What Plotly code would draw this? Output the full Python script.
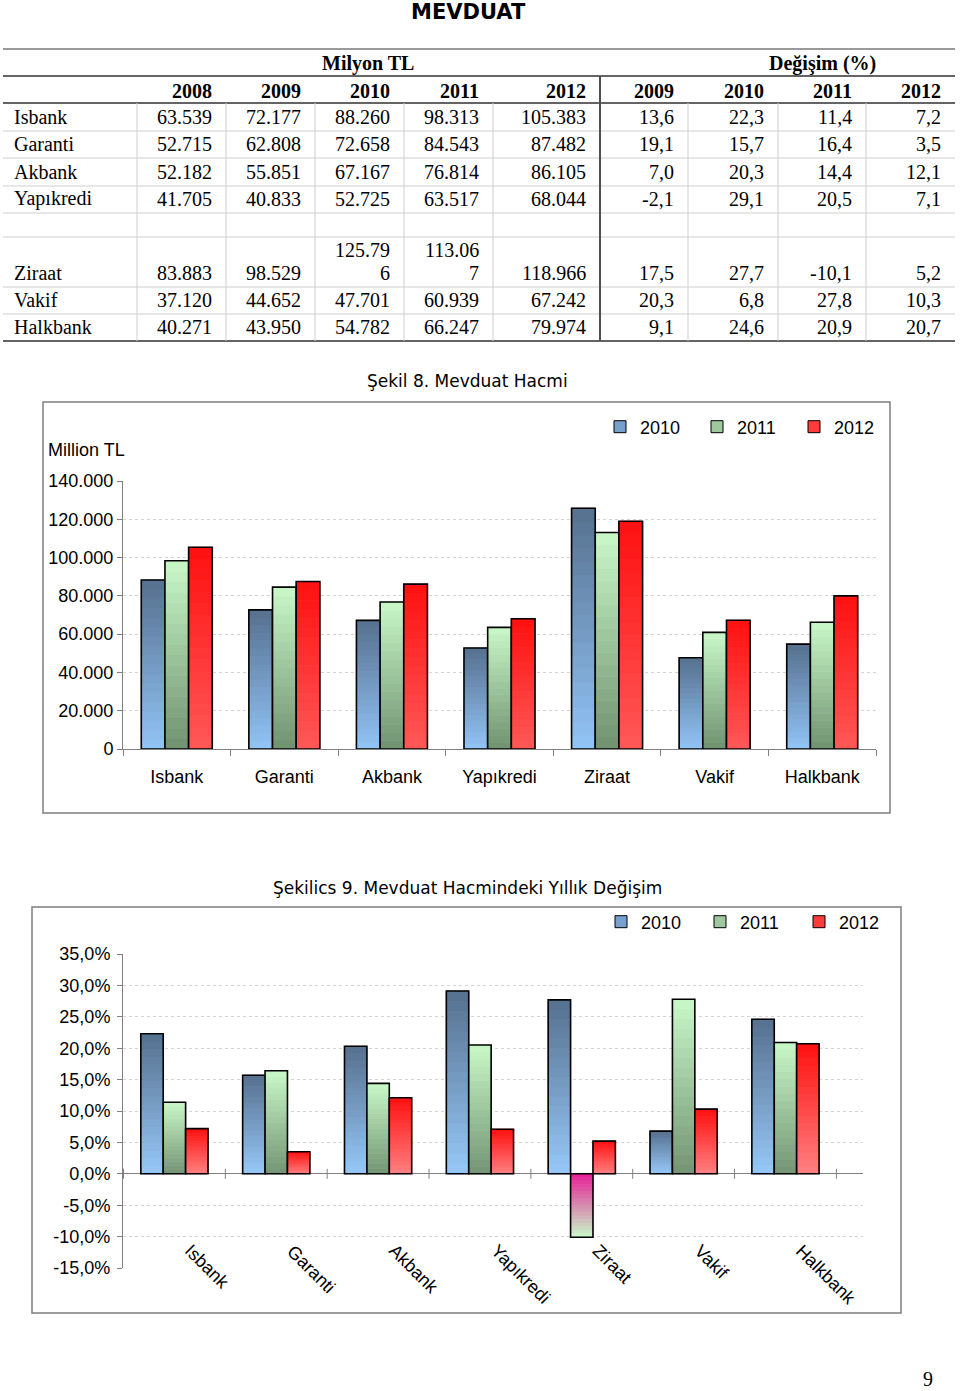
import plotly.graph_objects as go

W, H = 960, 1391

# ---------------- data ----------------
banks = ["Isbank", "Garanti", "Akbank", "Yapıkredi", "Ziraat", "Vakif", "Halkbank"]
years_tl = ["2008", "2009", "2010", "2011", "2012"]
years_pct = ["2009", "2010", "2011", "2012"]

tl_2008 = [63539, 52715, 52182, 41705, 83883, 37120, 40271]
tl_2009 = [72177, 62808, 55851, 40833, 98529, 44652, 43950]
tl_2010 = [88260, 72658, 67167, 52725, 125796, 47701, 54782]
tl_2011 = [98313, 84543, 76814, 63517, 113067, 60939, 66247]
tl_2012 = [105383, 87482, 86105, 68044, 118966, 67242, 79974]

pct_2009 = [13.6, 19.1, 7.0, -2.1, 17.5, 20.3, 9.1]
pct_2010 = [22.3, 15.7, 20.3, 29.1, 27.7, 6.8, 24.6]
pct_2011 = [11.4, 16.4, 14.4, 20.5, -10.1, 27.8, 20.9]
pct_2012 = [7.2, 3.5, 12.1, 7.1, 5.2, 10.3, 20.7]

chart_years = ["2010", "2011", "2012"]
tl_ticks = [0, 20000, 40000, 60000, 80000, 100000, 120000, 140000]
tl_ticktext = ["0", "20.000", "40.000", "60.000", "80.000", "100.000", "120.000", "140.000"]
pct_ticks = [-15, -10, -5, 0, 5, 10, 15, 20, 25, 30, 35]
pct_ticktext = ["-15,0%", "-10,0%", "-5,0%", "0,0%", "5,0%", "10,0%", "15,0%",
                "20,0%", "25,0%", "30,0%", "35,0%"]

title_main = "MEVDUAT"
title_c1 = "Şekil 8. Mevduat Hacmi"
title_c2 = "Şekilics 9. Mevduat Hacmindeki Yıllık Değişim"
page_no = "9"

# ---------------- helpers ----------------
def px(x):
    return x / W

def py(y):
    return 1 - y / H

def lerp(c0, c1, t):
    return "rgb(%d,%d,%d)" % tuple(round(a + (b - a) * t) for a, b in zip(c0, c1))

SERIF = "Liberation Serif"
SANS = "Liberation Sans"

fig = go.Figure()
shapes = []
annots = []

# ---------------- table ----------------
tl_cols = [tl_2008, tl_2009, tl_2010, tl_2011, tl_2012]
pct_cols = [pct_2009, pct_2010, pct_2011, pct_2012]
tl_right = [226, 315, 404, 493, 600]
pct_right = [688, 778, 866, 955]
row_bottoms = [131, 158, 186, 213, 287, 314, 341]
wrap_cells = {(4, 2), (4, 3)}


def hline(y, x0, x1, color, width):
    shapes.append(dict(type="line", xref="paper", yref="paper", x0=px(x0), x1=px(x1),
                       y0=py(y), y1=py(y), line=dict(color=color, width=width)))


def vline(x, y0, y1, color, width):
    shapes.append(dict(type="line", xref="paper", yref="paper", x0=px(x), x1=px(x),
                       y0=py(y0), y1=py(y1), line=dict(color=color, width=width)))


def text(x, y, s, size=20, family=SERIF, anchor="right", bold=False, color="#000"):
    if bold:
        s = "<b>%s</b>" % s
    annots.append(dict(x=px(x), y=py(y), xref="paper", yref="paper", text=s,
                       showarrow=False, xanchor=anchor, yanchor="middle",
                       font=dict(family=family, size=size, color=color)))


hline(49, 3, 955, "#9a9a9a", 2)
hline(76, 3, 955, "#303030", 1.5)
hline(103, 3, 955, "#303030", 1.5)
for yy in [131, 158, 186, 213, 237, 287, 314]:
    hline(yy, 3, 955, "#cfcfcf", 1)
hline(341, 3, 955, "#303030", 1.5)
for xx in [137, 226, 315, 404, 493, 688, 778, 866]:
    vline(xx, 103, 341, "#cfcfcf", 1)
vline(600, 76, 341, "#505050", 2)

text(368, 64, "Milyon TL", anchor="center", bold=True)
text(822, 64, "Değişim (%)", anchor="center", bold=True)
for yr, xr in zip(years_tl, tl_right):
    text(xr - 12, 91, yr, bold=True)
for yr, xr in zip(years_pct, pct_right):
    text(xr - 12, 91, yr, bold=True)

for i, b in enumerate(banks):
    yc = row_bottoms[i] - 14
    text(12, yc, b, anchor="left")
    for j, col in enumerate(tl_cols):
        s = "{:,}".format(col[i]).replace(",", ".")
        if (i, j) in wrap_cells:
            text(tl_right[j] - 12, yc - 23, s[:6])
            text(tl_right[j] - 12, yc, s[6:])
        else:
            text(tl_right[j] - 12, yc, s)
    for j, col in enumerate(pct_cols):
        s = "{:.1f}".format(col[i]).replace(".", ",")
        text(pct_right[j] - 12, yc, s)

# ---------------- titles ----------------
annots.append(dict(x=px(468), y=py(12), xref="paper", yref="paper", text="<b>%s</b>" % title_main,
                   showarrow=False, xanchor="center", yanchor="middle",
                   font=dict(family="DejaVu Sans", size=21, color="#000")))
annots.append(dict(x=px(467), y=py(381), xref="paper", yref="paper", text=title_c1,
                   showarrow=False, xanchor="center", yanchor="middle",
                   font=dict(family="DejaVu Sans", size=17, color="#000")))
annots.append(dict(x=px(467), y=py(888), xref="paper", yref="paper", text=title_c2,
                   showarrow=False, xanchor="center", yanchor="middle",
                   font=dict(family="DejaVu Sans", size=17, color="#000")))
annots.append(dict(x=px(928), y=py(1379), xref="paper", yref="paper", text=page_no,
                   showarrow=False, xanchor="center", yanchor="middle",
                   font=dict(family=SERIF, size=20, color="#000")))
annots.append(dict(x=px(46), y=py(450), xref="paper", yref="paper", text="Million TL",
                   showarrow=False, xanchor="left", yanchor="middle",
                   font=dict(family=SANS, size=18, color="#000")))

shapes.append(dict(type="rect", xref="paper", yref="paper", x0=px(43), x1=px(890),
                   y0=py(813), y1=py(402), line=dict(color="#7f7f7f", width=1.5)))
shapes.append(dict(type="rect", xref="paper", yref="paper", x0=px(32), x1=px(901),
                   y0=py(1313), y1=py(907), line=dict(color="#7f7f7f", width=1.5)))

# ---------------- bars ----------------
N = 18
grad1 = {
    "2010": ((146, 196, 246), (86, 112, 142)),
    "2011": ((112, 145, 112), (200, 248, 200)),
    "2012": ((255, 88, 88), (255, 16, 16)),
}
grad2 = {
    "2010": ((150, 200, 248), (86, 112, 142)),
    "2011": ((115, 148, 115), (200, 248, 200)),
    "2012": ((255, 128, 128), (255, 16, 16)),
}
neg_grad = ((230, 30, 150), (200, 248, 200))
mid_legend = {"2010": "rgb(120,160,205)", "2011": "rgb(160,200,160)", "2012": "rgb(255,60,60)"}


def add_series(vals, year, grad, xa, ya, grp, legend):
    bottom, top = grad
    for k in range(N):
        t = (k + 0.5) / N
        colors = [lerp(bottom, top, t) if v >= 0 else lerp(neg_grad[0], neg_grad[1], t)
                  for v in vals]
        fig.add_trace(go.Bar(
            x=banks, y=[v / N for v in vals], base=[v * k / N for v in vals],
            marker=dict(color=colors, line=dict(width=0.8, color=colors)),
            offsetgroup=grp + year, xaxis=xa, yaxis=ya, showlegend=False,
            hoverinfo="skip"))
    fig.add_trace(go.Bar(
        x=banks, y=vals, base=[0] * len(vals),
        marker=dict(color="rgba(0,0,0,0)", line=dict(color="#000", width=1.6)),
        offsetgroup=grp + year, xaxis=xa, yaxis=ya, showlegend=False))
    fig.add_trace(go.Bar(
        x=banks, y=[None] * len(vals), name=year,
        marker=dict(color=mid_legend[year], line=dict(color="#000", width=1)),
        offsetgroup=grp + year, xaxis=xa, yaxis=ya, showlegend=True, legend=legend))


for vals, yr in zip([tl_2010, tl_2011, tl_2012], chart_years):
    add_series(vals, yr, grad1[yr], "x", "y", "a", "legend")
for vals, yr in zip([pct_2010, pct_2011, pct_2012], chart_years):
    add_series(vals, yr, grad2[yr], "x2", "y2", "b", "legend2")

for b in banks:
    annots.append(dict(x=b, y=py(1238), xref="x2", yref="paper", text=b, showarrow=False,
                       xanchor="left", yanchor="top", textangle=45, xshift=4,
                       font=dict(family=SANS, size=18, color="#000")))

for i in range(len(banks) + 1):
    shapes.append(dict(type="line", xref="x2", yref="y2", x0=i - 0.5, x1=i - 0.5,
                       ysizemode="pixel", yanchor=0, y0=-5, y1=5,
                       line=dict(color="#808080", width=1)))

grid = dict(showgrid=True, gridcolor="#d4d4d4", griddash="3px,3px", gridwidth=1)
tickfont = dict(family=SANS, size=18, color="#000")

fig.update_layout(
    width=W, height=H, margin=dict(l=0, r=0, t=0, b=0, autoexpand=False),
    paper_bgcolor="white", plot_bgcolor="white",
    barmode="group", bargap=0.34, bargroupgap=0,
    showlegend=True,
    xaxis=dict(domain=[px(123), px(876)], anchor="y", type="category",
               categoryorder="array", categoryarray=banks,
               showline=True, linecolor="#808080", linewidth=1,
               ticks="outside", tickson="boundaries", ticklen=6, tickcolor="#808080",
               tickfont=tickfont, ticklabelstandoff=11, showgrid=False),
    yaxis=dict(domain=[py(749), py(481)], anchor="x", range=[0, 140000],
               tickvals=tl_ticks, ticktext=tl_ticktext, tickfont=tickfont,
               showline=True, linecolor="#808080", linewidth=1,
               ticks="outside", ticklen=5, tickcolor="#808080", zeroline=False, **grid),
    xaxis2=dict(domain=[px(123), px(863)], anchor="y2", type="category",
                categoryorder="array", categoryarray=banks,
                showline=False, showticklabels=False, ticks="", showgrid=False),
    yaxis2=dict(domain=[py(1268), py(954)], anchor="x2", range=[-15, 35],
                tickvals=pct_ticks, ticktext=pct_ticktext, tickfont=tickfont,
                showline=True, linecolor="#808080", linewidth=1,
                ticks="outside", ticklen=5, tickcolor="#808080", ticklabelstandoff=3,
                zeroline=True, zerolinecolor="#808080", zerolinewidth=1, **grid),
    legend=dict(orientation="h", x=px(600), y=py(427), xanchor="left", yanchor="middle",
                font=dict(family=SANS, size=18, color="#000"), entrywidth=52,
                entrywidthmode="pixels", bgcolor="rgba(0,0,0,0)", traceorder="normal"),
    legend2=dict(orientation="h", x=px(601), y=py(922), xanchor="left", yanchor="middle",
                 font=dict(family=SANS, size=18, color="#000"), entrywidth=54,
                 entrywidthmode="pixels", bgcolor="rgba(0,0,0,0)", traceorder="normal"),
    shapes=shapes, annotations=annots,
)

fig.write_html("out.html")
